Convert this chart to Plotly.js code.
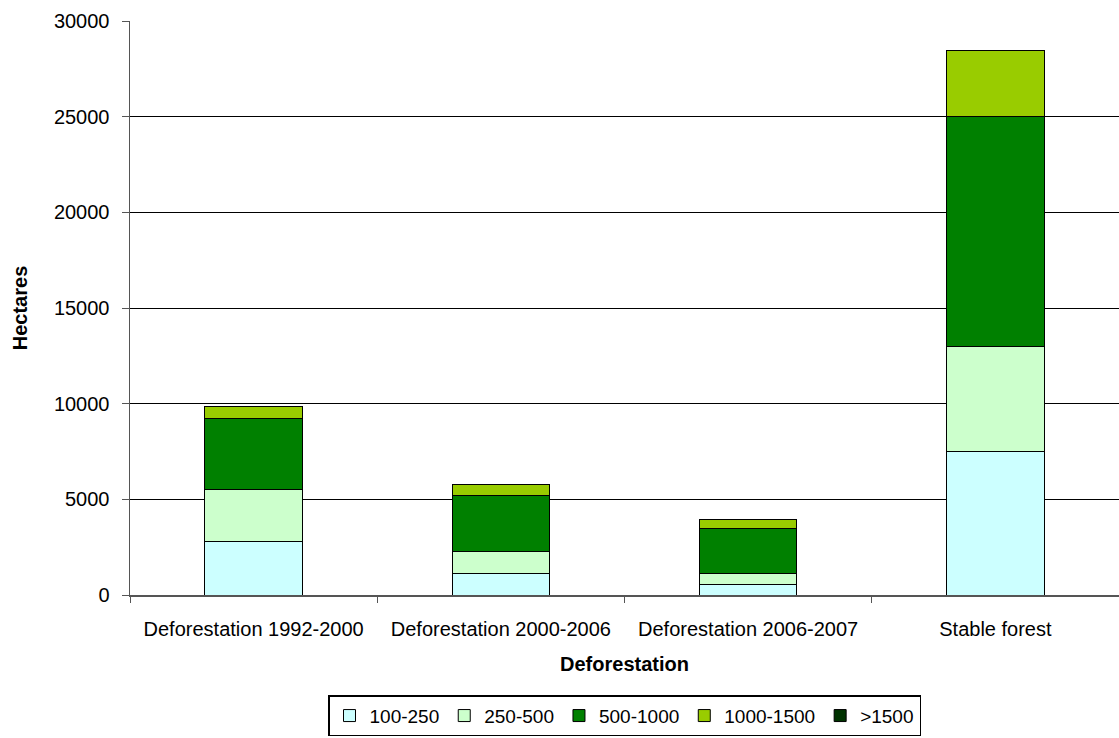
<!DOCTYPE html>
<html><head><meta charset="utf-8">
<script src="https://cdn.plot.ly/plotly-3.0.1.min.js"></script>
<style>html,body{margin:0;padding:0;overflow:hidden;background:#fff}</style>
</head><body><div id="chart" style="width:1119px;height:738px"></div>
<script>
const categories = ["Deforestation 1992-2000", "Deforestation 2000-2006", "Deforestation 2006-2007", "Stable forest"];
const seriesNames = ["100-250", "250-500", "500-1000", "1000-1500", ">1500"];
const v100_250 = [2800, 1150, 550, 7500];
const v250_500 = [2700, 1100, 600, 5500];
const v500_1000 = [3700, 2950, 2300, 12000];
const v1000_1500 = [650, 550, 500, 3450];
const vOver1500 = [0, 0, 0, 0];
const yTicks = [0, 5000, 10000, 15000, 20000, 25000, 30000];

const seriesValues = [v100_250, v250_500, v500_1000, v1000_1500, vOver1500];
const colors = ["#CCFFFF", "#CCFFCC", "#008000", "#99CC00", "#003300"];
const font = "Liberation Sans, Arial, sans-serif";

const traces = seriesNames.map((n, i) => ({
  type: "bar", name: n, x: categories, y: seriesValues[i],
  marker: {color: colors[i], line: {color: "#000", width: 1}},
  hoverinfo: "x+y+name"
}));

const layout = {
  width: 1119, height: 738,
  margin: {l: 130, r: 0, t: 21, b: 143},
  barmode: "stack", bargap: 0.605,
  paper_bgcolor: "#fff", plot_bgcolor: "#fff",
  font: {family: font, size: 20, color: "#000"},
  xaxis: {
    type: "category", tickson: "boundaries", ticks: "outside", ticklen: 6, tickcolor: "#555",
    showline: true, linecolor: "#555", linewidth: 1.5,
    ticklabelstandoff: 15,
    tickfont: {family: font, size: 20, color: "#000"},
    title: {text: "<b>Deforestation</b>", font: {family: font, size: 20, color: "#000"}, standoff: 18}
  },
  yaxis: {
    range: [0, 30000], tickvals: yTicks, ticktext: yTicks.map(String),
    ticks: "outside", ticklen: 7, tickcolor: "#555",
    showline: true, linecolor: "#555", linewidth: 1.5,
    showgrid: true, gridcolor: "#000", gridwidth: 1, zeroline: false,
    ticklabelstandoff: 8,
    tickfont: {family: font, size: 20, color: "#000"},
    title: {text: "<b>Hectares</b>", font: {family: font, size: 20, color: "#000"}, standoff: 21}
  },
  legend: {
    orientation: "h", x: 0.5, xanchor: "center", y: -0.246, yanchor: "bottom",
    bordercolor: "#000", borderwidth: 1.5, font: {family: font, size: 19, color: "#000"},
    itemwidth: 30, traceorder: "normal", tracegroupgap: 0
  },
  showlegend: true
};

Plotly.newPlot("chart", traces, layout, {displayModeBar: false, staticPlot: true});
</script></body></html>
